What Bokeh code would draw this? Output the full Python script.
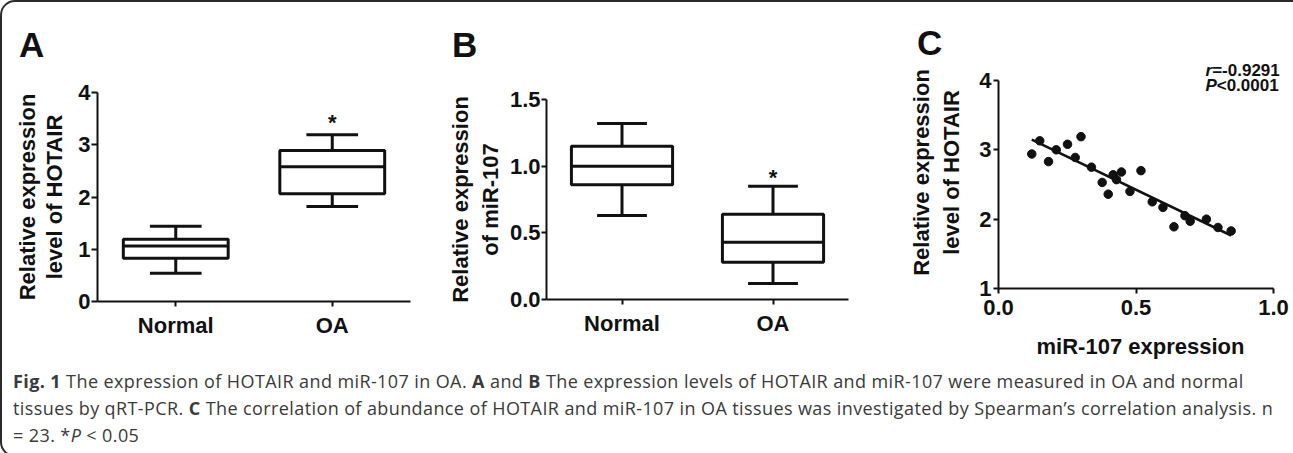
import numpy as np
from bokeh.plotting import figure
from bokeh.models import ColumnDataSource, FixedTicker, Div, NumeralTickFormatter, Range1d, FactorRange
from bokeh.layouts import row, column
from bokeh.transform import dodge
from bokeh.embed import file_html
from bokeh.resources import INLINE
from bokeh.core.properties import value

# ---------------- data ----------------
groups = ["Normal", "OA"]

# Panel A: HOTAIR box plot
hotair_low = [0.54, 1.82]
hotair_q1 = [0.83, 2.06]
hotair_med = [1.06, 2.58]
hotair_q3 = [1.19, 2.89]
hotair_high = [1.44, 3.19]

# Panel B: miR-107 box plot
mir_low = [0.63, 0.12]
mir_q1 = [0.86, 0.28]
mir_med = [1.00, 0.43]
mir_q3 = [1.15, 0.64]
mir_high = [1.32, 0.85]

star_groups = ["OA"]
hotair_star_y = [3.47]
mir_star_y = [0.93]

# Panel C: correlation scatter
mir_x = [0.121, 0.150, 0.182, 0.210, 0.251, 0.279, 0.300, 0.338, 0.377, 0.399,
         0.417, 0.429, 0.447, 0.478, 0.518, 0.559, 0.598, 0.638, 0.678, 0.697,
         0.756, 0.798, 0.846]
hotair_y = [2.94, 3.13, 2.83, 3.00, 3.08, 2.89, 3.19, 2.75, 2.53, 2.36,
            2.64, 2.57, 2.68, 2.40, 2.70, 2.25, 2.17, 1.89, 2.05, 1.97,
            2.00, 1.88, 1.83]

yticks_a = [0, 1, 2, 3, 4]
yticks_b = [0.0, 0.5, 1.0, 1.5]
xticks_c = [0.0, 0.5, 1.0]
yticks_c = [1, 2, 3, 4]

stat_r = "=-0.9291"
stat_p = "<0.0001"

FONT = "Liberation Sans"
INK = "#111111"
ROW_H = 350


def make_fig(width, height, left, right, top, bottom, x_range, y_range):
    p = figure(width=width, height=height, x_range=x_range, y_range=y_range,
               output_backend="svg", toolbar_location=None,
               min_border_left=left, min_border_right=right,
               min_border_top=top, min_border_bottom=bottom)
    try:
        p.frame_align = False
    except Exception:
        pass
    p.grid.visible = False
    p.outline_line_color = None
    p.background_fill_color = "white"
    p.border_fill_color = "white"
    return p


def style_axes(p, xlabel, ylabel, ystandoff, xstandoff=10, ytick_out=6, ylab_standoff=1,
               line_height=1.2):
    for ax in (p.xaxis[0], p.yaxis[0]):
        ax.axis_line_width = 2
        ax.axis_line_color = INK
        ax.major_tick_line_width = 2
        ax.major_tick_line_color = INK
        ax.major_tick_in = 0
        ax.major_tick_out = 5
        ax.minor_tick_line_color = None
        ax.major_label_text_font = FONT
        ax.major_label_text_font_style = "bold"
        ax.major_label_text_font_size = "22px"
        ax.major_label_text_color = INK
        ax.axis_label_text_font = FONT
        ax.axis_label_text_font_style = "bold"
        ax.axis_label_text_font_size = "22px"
        ax.axis_label_text_color = INK
        ax.axis_label_text_line_height = line_height
    p.yaxis[0].major_tick_out = ytick_out
    p.yaxis[0].major_label_standoff = ylab_standoff
    p.xaxis[0].major_label_standoff = 6
    p.yaxis[0].axis_label = ylabel
    p.yaxis[0].axis_label_standoff = ystandoff
    if xlabel:
        p.xaxis[0].axis_label = xlabel
        p.xaxis[0].axis_label_standoff = xstandoff


def box_plot(p, low, q1, med, q3, high, star_y):
    src = ColumnDataSource(dict(grp=groups, low=low, q1=q1, med=med, q3=q3, high=high))
    lw = 3
    p.segment(x0="grp", x1="grp", y0="q3", y1="high", source=src, line_color=INK, line_width=lw)
    p.segment(x0="grp", x1="grp", y0="low", y1="q1", source=src, line_color=INK, line_width=lw)
    for col in ("high", "low"):
        p.segment(x0=dodge("grp", -0.165, range=p.x_range), x1=dodge("grp", 0.165, range=p.x_range),
                  y0=col, y1=col, source=src, line_color=INK, line_width=lw)
    p.vbar(x="grp", width=0.67, bottom="q1", top="q3", source=src,
           fill_color="white", line_color=INK, line_width=lw)
    p.segment(x0=dodge("grp", -0.335, range=p.x_range), x1=dodge("grp", 0.335, range=p.x_range),
              y0="med", y1="med", source=src, line_color=INK, line_width=lw)
    p.text(x=star_groups, y=star_y, text=["*"], text_font=value(FONT), text_font_style="bold",
           text_font_size="22px", text_align="center", text_baseline="middle",
           y_offset=2, text_color=INK)


def letter_div(txt, width, height, pad_left, pad_top):
    return Div(text=txt, width=width, height=height,
               styles={"font-family": "'Liberation Sans', Arial, sans-serif", "font-weight": "bold",
                       "font-size": "35px", "line-height": "35px", "color": INK,
                       "padding-top": f"{pad_top}px", "padding-left": f"{pad_left}px",
                       "box-sizing": "border-box", "background-color": "white",
                       "overflow": "visible"})


# ---------------- Panel A ----------------
hA = 48
pA = make_fig(420, ROW_H - hA, 95, 12, 32, 61, FactorRange(factors=groups), Range1d(0, 4))
box_plot(pA, hotair_low, hotair_q1, hotair_med, hotair_q3, hotair_high, hotair_star_y)
style_axes(pA, None, "Relative expression\nlevel of HOTAIR", 8, line_height=1.1)
pA.yaxis[0].ticker = FixedTicker(ticks=yticks_a)

# ---------------- Panel B ----------------
hB = 48
pB = make_fig(440, ROW_H - hB, 114, 24, 39, 63, FactorRange(factors=groups), Range1d(0, 1.5))
box_plot(pB, mir_low, mir_q1, mir_med, mir_q3, mir_high, mir_star_y)
style_axes(pB, None, "Relative expression\nof miR-107", 4, ytick_out=5)
pB.yaxis[0].ticker = FixedTicker(ticks=yticks_b)
pB.yaxis[0].formatter = NumeralTickFormatter(format="0.0")

# ---------------- Panel C ----------------
hC = 44
pC = make_fig(413, ROW_H - hC, 116, 13, 0, 74, Range1d(0, 1.0327), Range1d(1, 4.346))
pC.scatter(mir_x, hotair_y, size=8.5, marker="circle", fill_color=INK, line_color=INK)
slope, intercept = np.polyfit(mir_x, hotair_y, 1)
fx = [min(mir_x), max(mir_x)]
pC.line(fx, [slope * v + intercept for v in fx], line_color=INK, line_width=2.5)
style_axes(pC, "miR-107 expression", "Relative expression\nlevel of HOTAIR", 12,
           xstandoff=16, ytick_out=5, ylab_standoff=2)
pC.yaxis[0].ticker = FixedTicker(ticks=yticks_c)
pC.xaxis[0].ticker = FixedTicker(ticks=xticks_c)
pC.xaxis[0].formatter = NumeralTickFormatter(format="0.0")
pC.xaxis[0].bounds = (0, 1)
pC.yaxis[0].bounds = (1, 4)

stat_kw = dict(text_font=value(FONT), text_font_size="17px", text_color=INK,
               text_baseline="alphabetic", text_align="left")
pC.text(x=[0.7527], y=[4.144], text=["r"], text_font_style="bold italic", **stat_kw)
pC.text(x=[0.7770], y=[4.144], text=[stat_r], text_font_style="bold", **stat_kw)
pC.text(x=[0.7527], y=[3.928], text=["P"], text_font_style="bold italic", **stat_kw)
pC.text(x=[0.7935], y=[3.928], text=[stat_p], text_font_style="bold", **stat_kw)

# ---------------- caption ----------------
caption_html = (
    "<b>Fig. 1</b> The expression of HOTAIR and miR-107 in OA. <b>A</b> and <b>B</b> "
    "The expression levels of HOTAIR and miR-107 were measured in OA and normal<br>"
    "tissues by qRT-PCR. <b>C</b> The correlation of abundance of HOTAIR and miR-107 in OA "
    "tissues was investigated by Spearman\u2019s correlation analysis. n<br>"
    "= 23. *<i>P</i> &lt; 0.05"
)
caption = Div(text=caption_html, width=1273, height=83,
              styles={"font-family": "'Open Sans', sans-serif", "font-size": "18px",
                      "letter-spacing": "0.4px",
                      "line-height": "27px", "color": "#3a3a3a", "white-space": "nowrap",
                      "padding-top": "1px", "padding-left": "6px", "box-sizing": "border-box"})

panels = row(
    column(letter_div("A", 420, hA, 12, 20), pA),
    column(letter_div("B", 440, hB, 15, 20), pB),
    column(letter_div("C", 413, hC, 30, 18), pC),
)

page = column(panels, caption,
              styles={"border": "2px solid #2b2b2b", "border-radius": "15px",
                      "background-color": "white"})

open("out.html", "w").write(file_html(page, INLINE))
